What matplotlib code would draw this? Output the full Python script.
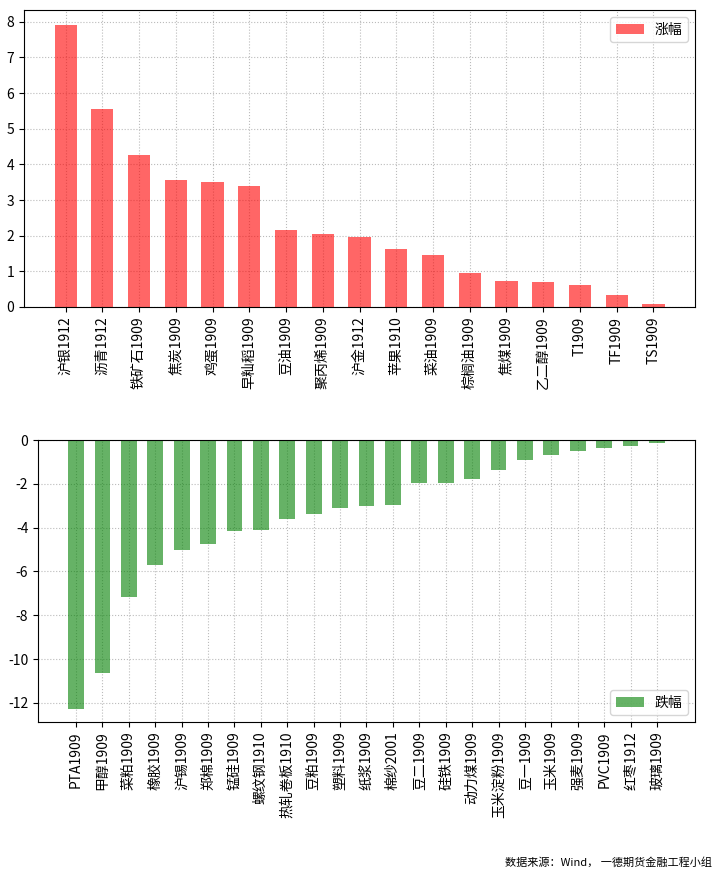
import matplotlib
matplotlib.use("Agg")
import matplotlib.pyplot as plt
import numpy as np

plt.rcParams['font.family'] = ['Noto Sans CJK SC', 'DejaVu Sans']
plt.rcParams['axes.unicode_minus'] = False

# 涨幅
up_names = ['沪银1912', '沥青1912', '铁矿石1909', '焦炭1909', '鸡蛋1909', '早籼稻1909',
            '豆油1909', '聚丙烯1909', '沪金1912', '苹果1910', '菜油1909', '棕榈油1909',
            '焦煤1909', '乙二醇1909', 'T1909', 'TF1909', 'TS1909']
up_vals = [7.92, 5.55, 4.26, 3.57, 3.50, 3.40, 2.17, 2.04, 1.97, 1.63, 1.47, 0.96,
           0.73, 0.69, 0.63, 0.33, 0.08]

# 跌幅
down_names = ['PTA1909', '甲醇1909', '菜粕1909', '橡胶1909', '沪锡1909', '郑棉1909',
              '锰硅1909', '螺纹钢1910', '热轧卷板1910', '豆粕1909', '塑料1909', '纸浆1909',
              '棉纱2001', '豆二1909', '硅铁1909', '动力煤1909', '玉米淀粉1909', '豆一1909',
              '玉米1909', '强麦1909', 'PVC1909', '红枣1912', '玻璃1909']
down_vals = [-12.27, -10.65, -7.15, -5.69, -5.00, -4.73, -4.17, -4.09, -3.60, -3.39,
             -3.12, -3.00, -2.97, -1.98, -1.95, -1.80, -1.37, -0.93, -0.67, -0.50,
             -0.36, -0.29, -0.12]

fig = plt.figure(figsize=(7.19, 8.77), dpi=100)

ax1 = fig.add_axes([24 / 719, 1 - 307 / 877, 671 / 719, 297 / 877])
x1 = np.arange(len(up_names))
ax1.bar(x1, up_vals, width=0.6, color='r', alpha=0.6, label='涨幅')
ax1.set_xticks(x1)
ax1.set_xticklabels(up_names, rotation=90, fontsize=10)
ax1.set_xlim(-1.13, len(up_names) - 1 + 1.13)
ax1.set_ylim(0, 8.33)
ax1.grid(True, linestyle=':', color='#bbbbbb')
ax1.set_axisbelow(True)
ax1.tick_params(labelsize=10)
ax1.legend(loc='upper right', fontsize=10)

ax2 = fig.add_axes([38 / 719, 1 - 722 / 877, 657 / 719, 282 / 877])
x2 = np.arange(len(down_names))
ax2.bar(x2, down_vals, width=0.6, color='g', alpha=0.6, label='跌幅')
ax2.set_xticks(x2)
ax2.set_xticklabels(down_names, rotation=90, fontsize=10)
ax2.set_xlim(-1.44, len(down_names) - 1 + 1.44)
ax2.set_ylim(-12.87, 0)
ax2.grid(True, linestyle=':', color='#bbbbbb')
ax2.set_axisbelow(True)
ax2.tick_params(labelsize=10)
ax2.legend(loc='lower right', fontsize=10)

fig.text(712 / 719, 1 - 862 / 877, '数据来源：Wind， 一德期货金融工程小组', fontsize=8,
         ha='right', va='center')

fig.savefig('out.png', dpi=100)
